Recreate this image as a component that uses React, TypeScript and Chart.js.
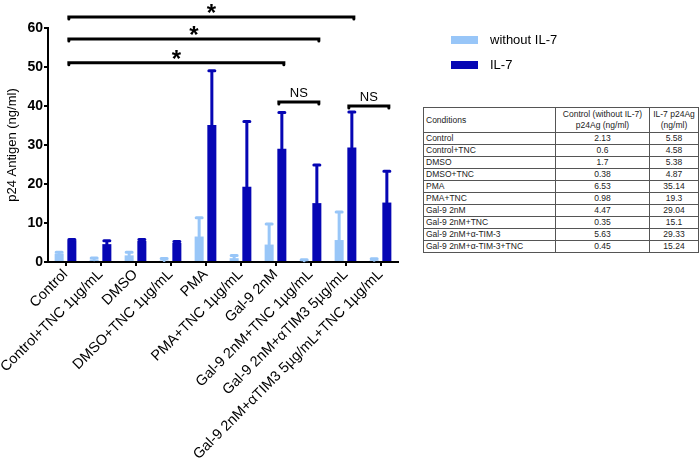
import React, { useEffect, useRef } from 'react';
import { Chart, registerables } from 'chart.js';
Chart.register(...registerables);

const categories = [
  'Control',
  'Control+TNC 1µg/mL',
  'DMSO',
  'DMSO+TNC 1µg/mL',
  'PMA',
  'PMA+TNC 1µg/mL',
  'Gal-9 2nM',
  'Gal-9 2nM+TNC 1µg/mL',
  'Gal-9 2nM+αTIM3 5µg/mL',
  'Gal-9 2nM+αTIM3 5µg/mL+TNC 1µg/mL',
];
const withoutIL7 = [2.13, 0.6, 1.7, 0.38, 6.53, 0.98, 4.47, 0.35, 5.63, 0.45];
const withIL7 = [5.58, 4.58, 5.38, 4.87, 35.14, 19.3, 29.04, 15.1, 29.33, 15.24];
const withoutIL7Err = [0.4, 0.4, 0.8, 0.5, 4.8, 0.7, 5.3, 0.2, 7.2, 0.4];
const withIL7Err = [0.2, 0.9, 0.4, 0.4, 13.9, 16.7, 9.3, 9.8, 9.1, 8.0];
const yMin = 0;
const yMax = 60;
const yStep = 10;

// significance brackets (category indices of IL-7 bars, level in axis units)
const sigFrom = [0, 0, 0, 6, 8];
const sigTo = [8, 7, 6, 7, 9];
const sigLevel = [62.8, 57.2, 51.1, 41, 40];
const sigLabel = ['*', '*', '*', 'NS', 'NS'];

const tableConditions = [
  'Control', 'Control+TNC', 'DMSO', 'DMSO+TNC', 'PMA', 'PMA+TNC',
  'Gal-9 2nM', 'Gal-9 2nM+TNC', 'Gal-9 2nM+α-TIM-3', 'Gal-9 2nM+α-TIM-3+TNC',
];
const tableControl = ['2.13', '0.6', '1.7', '0.38', '6.53', '0.98', '4.47', '0.35', '5.63', '0.45'];
const tableIL7 = ['5.58', '4.58', '5.38', '4.87', '35.14', '19.3', '29.04', '15.1', '29.33', '15.24'];

const LIGHT = '#98c6f8';
const DARK = '#0606b4';
const FONT = "'Liberation Sans', Arial, sans-serif";

export default function App() {
  const ref = useRef<HTMLCanvasElement>(null);

  useEffect(() => {
    document.body.style.margin = '0';
    const errPlugin = {
      id: 'errbars',
      afterDatasetsDraw(chart: any) {
        const ctx = chart.ctx;
        const ys = chart.scales.y;
        const errs = [withoutIL7Err, withIL7Err];
        const vals = [withoutIL7, withIL7];
        const cols = [LIGHT, DARK];
        ctx.save();
        for (let d = 0; d < 2; d++) {
          const meta = chart.getDatasetMeta(d);
          ctx.strokeStyle = cols[d];
          ctx.lineWidth = 3;
          ctx.lineCap = 'round';
          meta.data.forEach((el: any, i: number) => {
            const top = ys.getPixelForValue(vals[d][i] + errs[d][i]);
            ctx.beginPath();
            ctx.moveTo(el.x, el.y);
            ctx.lineTo(el.x, top);
            ctx.moveTo(el.x - 3, top);
            ctx.lineTo(el.x + 3, top);
            ctx.stroke();
          });
        }
        ctx.restore();
      },
    };
    const sigPlugin = {
      id: 'sig',
      afterDraw(chart: any) {
        const ctx = chart.ctx;
        const ys = chart.scales.y;
        const meta = chart.getDatasetMeta(1);
        ctx.save();
        ctx.strokeStyle = '#000';
        ctx.fillStyle = '#000';
        ctx.lineWidth = 3;
        ctx.lineCap = 'round';
        for (let k = 0; k < sigFrom.length; k++) {
          const x1 = meta.data[sigFrom[k]].x - 3;
          const x2 = meta.data[sigTo[k]].x + 2;
          const y = ys.getPixelForValue(sigLevel[k]);
          ctx.beginPath();
          ctx.moveTo(x1, y + 2);
          ctx.lineTo(x1, y);
          ctx.lineTo(x2, y);
          ctx.lineTo(x2, y + 2);
          ctx.stroke();
          ctx.textAlign = 'center';
          ctx.textBaseline = 'alphabetic';
          if (sigLabel[k] === '*') {
            ctx.font = `bold 24px ${FONT}`;
            ctx.fillText('*', (x1 + x2) / 2, y + 4);
          } else {
            ctx.font = `13px ${FONT}`;
            ctx.fillText(sigLabel[k], (x1 + x2) / 2, y - 5);
          }
        }
        ctx.restore();
      },
    };
    const legendPlugin = {
      id: 'customLegend',
      afterDraw(chart: any) {
        const ctx = chart.ctx;
        const left = chart.chartArea.right + 53;
        ctx.save();
        ctx.font = `13px ${FONT}`;
        ctx.textBaseline = 'middle';
        ctx.textAlign = 'left';
        chart.data.datasets.forEach((ds: any, i: number) => {
          const yc = 40 + i * 25;
          ctx.fillStyle = ds.backgroundColor;
          ctx.fillRect(left, yc - 4, 27, 8);
          ctx.fillStyle = '#000';
          ctx.fillText(ds.label, left + 39, yc);
        });
        ctx.restore();
      },
    };

    const chart = new Chart(ref.current!, {
      type: 'bar',
      data: {
        labels: categories,
        datasets: [
          { label: 'without IL-7', data: withoutIL7, backgroundColor: LIGHT },
          { label: 'IL-7', data: withIL7, backgroundColor: DARK },
        ],
      },
      options: {
        animation: false,
        responsive: false,
        maintainAspectRatio: false,
        layout: { padding: { top: 28, right: 302, left: 0, bottom: 0 } },
        datasets: { bar: { barPercentage: 0.71, categoryPercentage: 0.726 } },
        plugins: { legend: { display: false }, tooltip: { enabled: false } },
        scales: {
          x: {
            grid: { display: true, drawOnChartArea: false, offset: false, tickLength: 4, color: '#000', lineWidth: 2 },
            border: { color: '#000', width: 2 },
            ticks: { minRotation: 45, maxRotation: 45, autoSkip: false, color: '#000', padding: 0, font: { family: FONT, size: 14.5 } },
            afterFit: (s: any) => { s.height = 200; s.paddingLeft = 0; s.paddingRight = 0; },
          },
          y: {
            min: yMin,
            max: yMax,
            grid: { display: true, drawOnChartArea: false, tickLength: 4, color: '#000', lineWidth: 2 },
            border: { color: '#000', width: 2 },
            ticks: { stepSize: yStep, color: '#000', padding: 1, font: { family: FONT, size: 14, weight: 'bold' } },
            title: { display: true, text: 'p24 Antigen (ng/ml)', color: '#000', padding: { top: 5, bottom: 0 }, font: { family: FONT, size: 13 } },
            afterFit: (s: any) => { s.width = 48; s.paddingTop = 0; s.paddingBottom = 0; },
          },
        },
      } as any,
      plugins: [errPlugin, sigPlugin, legendPlugin],
    });
    return () => chart.destroy();
  }, []);

  const cell: React.CSSProperties = {
    border: '1px solid #555',
    padding: '0 2px',
    height: 11,
    lineHeight: '11px',
    whiteSpace: 'nowrap',
  };

  return (
    <div style={{ position: 'relative', width: 700, height: 462 }}>
      <canvas ref={ref} width={700} height={462} style={{ position: 'absolute', left: 0, top: 0 }} />
      <table
        style={{
          position: 'absolute', left: 423, top: 107, width: 275, borderCollapse: 'collapse',
          fontFamily: FONT, fontSize: 8.5, color: '#222', tableLayout: 'fixed', background: '#fff',
        }}
      >
        <colgroup>
          <col style={{ width: 132 }} />
          <col style={{ width: 94 }} />
          <col style={{ width: 49 }} />
        </colgroup>
        <thead>
          <tr>
            <td style={{ ...cell, height: 24, textAlign: 'left' }}>Conditions</td>
            <td style={{ ...cell, height: 24, textAlign: 'center' }}>Control (without IL-7)<br />p24Ag (ng/ml)</td>
            <td style={{ ...cell, height: 24, textAlign: 'center' }}>IL-7 p24Ag<br />(ng/ml)</td>
          </tr>
        </thead>
        <tbody>
          {tableConditions.map((c, i) => (
            <tr key={c}>
              <td style={{ ...cell, textAlign: 'left' }}>{c}</td>
              <td style={{ ...cell, textAlign: 'center' }}>{tableControl[i]}</td>
              <td style={{ ...cell, textAlign: 'center' }}>{tableIL7[i]}</td>
            </tr>
          ))}
        </tbody>
      </table>
    </div>
  );
}
